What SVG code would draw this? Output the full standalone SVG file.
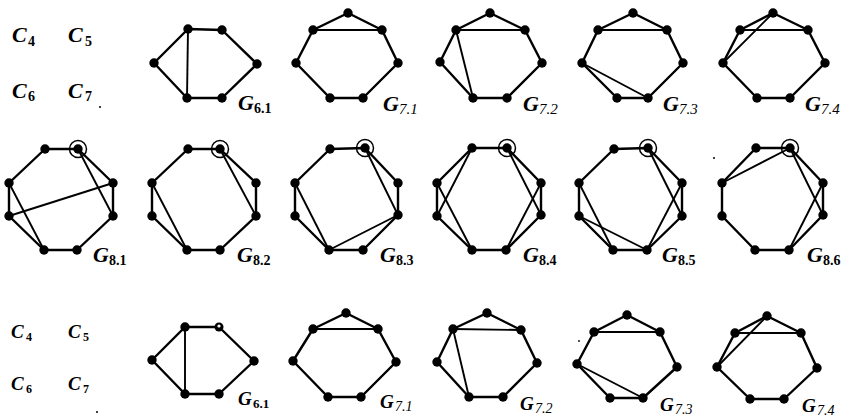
<svg xmlns="http://www.w3.org/2000/svg" width="853" height="418" viewBox="0 0 853 418">
<style>
.cyc{fill:none;stroke:#000;stroke-width:2.4;stroke-linejoin:round}
.ch{stroke:#000;stroke-width:1.9;fill:none}
.v{fill:#000}
.ring{fill:none;stroke:#000;stroke-width:1.5}
.lbl{font-family:"Liberation Serif",serif;font-style:italic;font-weight:bold;font-size:22px;fill:#000}
.lbl3{font-family:"Liberation Serif",serif;font-style:italic;font-weight:bold;font-size:19px;fill:#000}
.sb{font-family:"Liberation Serif",serif;font-weight:bold;font-style:normal;font-size:14px}
.si{font-family:"Liberation Serif",serif;font-style:italic;font-size:15px}
.speck{fill:#000}
</style>
<rect width="853" height="418" fill="#fff"/>

<g id="connectors">
<polygon class="cyc" points="188,29 222,30 257,64 222,98 187,98 154,63"/>
<line class="ch" x1="188" y1="29" x2="187" y2="98"/>
<polygon class="cyc" points="348,13 382,30 398,63 363,98 330,98 296,63 313,30"/>
<line class="ch" x1="313" y1="30" x2="382" y2="30"/>
<polygon class="cyc" points="490,13 525,30 542,63 507,98 473,98 440,62 456,30"/>
<line class="ch" x1="456" y1="30" x2="525" y2="30"/>
<line class="ch" x1="456" y1="30" x2="473" y2="98"/>
<polygon class="cyc" points="633,13 667,30 683,63 648,98 617,98 582,63 598,30"/>
<line class="ch" x1="598" y1="30" x2="667" y2="30"/>
<line class="ch" x1="582" y1="63" x2="648" y2="98"/>
<polygon class="cyc" points="773,13 808,30 825,63 790,98 757,98 723,63 740,30"/>
<line class="ch" x1="740" y1="30" x2="808" y2="30"/>
<line class="ch" x1="723" y1="63" x2="773" y2="13"/>
<polygon class="cyc" points="45,149 78,149 113,183 113,216 77,250 44,250 9,216 9,183"/>
<line class="ch" x1="78" y1="149" x2="113" y2="216"/>
<line class="ch" x1="9" y1="183" x2="44" y2="250"/>
<line class="ch" x1="9" y1="216" x2="113" y2="183"/>
<polygon class="cyc" points="188,149 220,149 256,183 256,216 220,250 187,250 152,216 152,183"/>
<line class="ch" x1="220" y1="149" x2="256" y2="216"/>
<line class="ch" x1="152" y1="183" x2="187" y2="250"/>
<polygon class="cyc" points="330,149 365,148 398,183 398,215 363,250 329,250 295,216 295,183"/>
<line class="ch" x1="365" y1="148" x2="398" y2="215"/>
<line class="ch" x1="295" y1="183" x2="329" y2="250"/>
<line class="ch" x1="329" y1="250" x2="398" y2="215"/>
<polygon class="cyc" points="472,148 507,148 541,183 541,215 506,250 472,250 437,216 437,183"/>
<line class="ch" x1="472" y1="148" x2="437" y2="216"/>
<line class="ch" x1="437" y1="183" x2="472" y2="250"/>
<line class="ch" x1="507" y1="148" x2="541" y2="215"/>
<line class="ch" x1="541" y1="183" x2="506" y2="250"/>
<polygon class="cyc" points="614,149 648,148 682,183 682,216 647,250 613,250 579,216 579,183"/>
<line class="ch" x1="648" y1="148" x2="682" y2="216"/>
<line class="ch" x1="682" y1="183" x2="647" y2="250"/>
<line class="ch" x1="579" y1="183" x2="613" y2="250"/>
<line class="ch" x1="579" y1="216" x2="647" y2="250"/>
<polygon class="cyc" points="756,148 790,148 823,183 823,215 789,250 755,250 722,216 722,183"/>
<line class="ch" x1="790" y1="148" x2="722" y2="183"/>
<line class="ch" x1="790" y1="148" x2="823" y2="215"/>
<line class="ch" x1="823" y1="183" x2="789" y2="250"/>
<polygon class="cyc" points="185,327 219,327 254,361 219,394 185,394 152,360"/>
<line class="ch" x1="185" y1="327" x2="185" y2="394"/>
<polygon class="cyc" points="346,313 378,329 396,362 361,397 328,397 293,361 313,329"/>
<line class="ch" x1="313" y1="329" x2="378" y2="329"/>
<polygon class="cyc" points="487,313 521,330 537,363 503,397 469,397 437,362 453,329"/>
<line class="ch" x1="453" y1="329" x2="521" y2="330"/>
<line class="ch" x1="453" y1="329" x2="469" y2="397"/>
<polygon class="cyc" points="627,315 660,332 677,367 643,398 610,398 577,364 594,332"/>
<line class="ch" x1="594" y1="332" x2="660" y2="332"/>
<line class="ch" x1="577" y1="364" x2="643" y2="398"/>
<polygon class="cyc" points="767,316 801,333 817,368 784,399 750,399 717,367 735,333"/>
<line class="ch" x1="735" y1="333" x2="801" y2="333"/>
<line class="ch" x1="717" y1="367" x2="767" y2="316"/>
</g>

<g id="C-labels-top">
<text class="lbl" x="12" y="42">C</text><text class="sb" x="28" y="46">4</text>
<text class="lbl" x="68" y="42">C</text><text class="sb" x="85" y="46">5</text>
<text class="lbl" x="12" y="98">C</text><text class="sb" x="28" y="101">6</text>
<text class="lbl" x="68" y="98">C</text><text class="sb" x="85" y="101">7</text>
</g>
<g id="C-labels-bottom">
<text class="lbl3" x="11" y="338">C</text><text class="sb" x="26" y="341" style="font-size:12px">4</text>
<text class="lbl3" x="68" y="338">C</text><text class="sb" x="83" y="341" style="font-size:12px">5</text>
<text class="lbl3" x="11" y="390">C</text><text class="sb" x="26" y="393" style="font-size:12px">6</text>
<text class="lbl3" x="68" y="390">C</text><text class="sb" x="83" y="393" style="font-size:12px">7</text>
</g>

<g id="G6-1-top">
<circle class="v" cx="188" cy="29" r="4.7"/><circle class="v" cx="222" cy="30" r="4.7"/><circle class="v" cx="257" cy="64" r="4.7"/><circle class="v" cx="222" cy="98" r="4.7"/><circle class="v" cx="187" cy="98" r="4.7"/><circle class="v" cx="154" cy="63" r="4.7"/>
<text class="lbl" x="238" y="110">G</text><text class="sb" x="254" y="113">6.1</text>
</g>
<g id="G7-1-top">
<circle class="v" cx="348" cy="13" r="4.7"/><circle class="v" cx="382" cy="30" r="4.7"/><circle class="v" cx="398" cy="63" r="4.7"/><circle class="v" cx="363" cy="98" r="4.7"/><circle class="v" cx="330" cy="98" r="4.7"/><circle class="v" cx="296" cy="63" r="4.7"/><circle class="v" cx="313" cy="30" r="4.7"/>
<text class="lbl" x="383" y="111">G</text><text class="si" x="399" y="114">7.1</text>
</g>
<g id="G7-2-top">
<circle class="v" cx="490" cy="13" r="4.7"/><circle class="v" cx="525" cy="30" r="4.7"/><circle class="v" cx="542" cy="63" r="4.7"/><circle class="v" cx="507" cy="98" r="4.7"/><circle class="v" cx="473" cy="98" r="4.7"/><circle class="v" cx="440" cy="62" r="4.7"/><circle class="v" cx="456" cy="30" r="4.7"/>
<text class="lbl" x="523" y="111">G</text><text class="si" x="539" y="114">7.2</text>
</g>
<g id="G7-3-top">
<circle class="v" cx="633" cy="13" r="4.7"/><circle class="v" cx="667" cy="30" r="4.7"/><circle class="v" cx="683" cy="63" r="4.7"/><circle class="v" cx="648" cy="98" r="4.7"/><circle class="v" cx="617" cy="98" r="4.7"/><circle class="v" cx="582" cy="63" r="4.7"/><circle class="v" cx="598" cy="30" r="4.7"/>
<text class="lbl" x="663" y="111">G</text><text class="si" x="679" y="114">7.3</text>
</g>
<g id="G7-4-top">
<circle class="v" cx="773" cy="13" r="4.7"/><circle class="v" cx="808" cy="30" r="4.7"/><circle class="v" cx="825" cy="63" r="4.7"/><circle class="v" cx="790" cy="98" r="4.7"/><circle class="v" cx="757" cy="98" r="4.7"/><circle class="v" cx="723" cy="63" r="4.7"/><circle class="v" cx="740" cy="30" r="4.7"/>
<text class="lbl" x="805" y="111">G</text><text class="si" x="821" y="114">7.4</text>
</g>

<g id="G8-1">
<circle class="v" cx="45" cy="149" r="4.7"/><circle class="v" cx="78" cy="149" r="4.7"/><circle class="ring" cx="78" cy="149" r="8.5"/><circle class="v" cx="113" cy="183" r="4.7"/><circle class="v" cx="113" cy="216" r="4.7"/><circle class="v" cx="77" cy="250" r="4.7"/><circle class="v" cx="44" cy="250" r="4.7"/><circle class="v" cx="9" cy="216" r="4.7"/><circle class="v" cx="9" cy="183" r="4.7"/>
<text class="lbl" x="93" y="262">G</text><text class="sb" x="109" y="265">8.1</text>
</g>
<g id="G8-2">
<circle class="v" cx="188" cy="149" r="4.7"/><circle class="v" cx="220" cy="149" r="4.7"/><circle class="ring" cx="220" cy="149" r="8.5"/><circle class="v" cx="256" cy="183" r="4.7"/><circle class="v" cx="256" cy="216" r="4.7"/><circle class="v" cx="220" cy="250" r="4.7"/><circle class="v" cx="187" cy="250" r="4.7"/><circle class="v" cx="152" cy="216" r="4.7"/><circle class="v" cx="152" cy="183" r="4.7"/>
<text class="lbl" x="237" y="262">G</text><text class="sb" x="253" y="265">8.2</text>
</g>
<g id="G8-3">
<circle class="v" cx="330" cy="149" r="4.7"/><circle class="v" cx="365" cy="148" r="4.7"/><circle class="ring" cx="365" cy="148" r="8.5"/><circle class="v" cx="398" cy="183" r="4.7"/><circle class="v" cx="398" cy="215" r="4.7"/><circle class="v" cx="363" cy="250" r="4.7"/><circle class="v" cx="329" cy="250" r="4.7"/><circle class="v" cx="295" cy="216" r="4.7"/><circle class="v" cx="295" cy="183" r="4.7"/>
<text class="lbl" x="380" y="262">G</text><text class="sb" x="396" y="265">8.3</text>
</g>
<g id="G8-4">
<circle class="v" cx="472" cy="148" r="4.7"/><circle class="v" cx="507" cy="148" r="4.7"/><circle class="ring" cx="507" cy="148" r="8.5"/><circle class="v" cx="541" cy="183" r="4.7"/><circle class="v" cx="541" cy="215" r="4.7"/><circle class="v" cx="506" cy="250" r="4.7"/><circle class="v" cx="472" cy="250" r="4.7"/><circle class="v" cx="437" cy="216" r="4.7"/><circle class="v" cx="437" cy="183" r="4.7"/>
<text class="lbl" x="523" y="262">G</text><text class="sb" x="539" y="265">8.4</text>
</g>
<g id="G8-5">
<circle class="v" cx="614" cy="149" r="4.7"/><circle class="v" cx="648" cy="148" r="4.7"/><circle class="ring" cx="648" cy="148" r="8.5"/><circle class="v" cx="682" cy="183" r="4.7"/><circle class="v" cx="682" cy="216" r="4.7"/><circle class="v" cx="647" cy="250" r="4.7"/><circle class="v" cx="613" cy="250" r="4.7"/><circle class="v" cx="579" cy="216" r="4.7"/><circle class="v" cx="579" cy="183" r="4.7"/>
<text class="lbl" x="662" y="262">G</text><text class="sb" x="678" y="265">8.5</text>
</g>
<g id="G8-6">
<circle class="v" cx="756" cy="148" r="4.7"/><circle class="v" cx="790" cy="148" r="4.7"/><circle class="ring" cx="790" cy="148" r="8.5"/><circle class="v" cx="823" cy="183" r="4.7"/><circle class="v" cx="823" cy="215" r="4.7"/><circle class="v" cx="789" cy="250" r="4.7"/><circle class="v" cx="755" cy="250" r="4.7"/><circle class="v" cx="722" cy="216" r="4.7"/><circle class="v" cx="722" cy="183" r="4.7"/>
<text class="lbl" x="807" y="262">G</text><text class="sb" x="823" y="265">8.6</text>
</g>

<g id="G6-1-bottom">
<circle class="v" cx="185" cy="327" r="4.7"/><circle class="v" cx="219" cy="327" r="4.5"/><circle cx="219" cy="326" r="1.6" fill="#fff"/><circle class="v" cx="254" cy="361" r="4.7"/><circle class="v" cx="219" cy="394" r="4.7"/><circle class="v" cx="185" cy="394" r="4.7"/><circle class="v" cx="152" cy="360" r="4.7"/>
<text class="lbl3" x="238" y="405">G</text><text class="sb" x="253" y="408" style="font-size:13px">6.1</text>
</g>
<g id="G7-1-bottom">
<circle class="v" cx="346" cy="313" r="4.7"/><circle class="v" cx="378" cy="329" r="4.7"/><circle class="v" cx="396" cy="362" r="4.7"/><circle class="v" cx="361" cy="397" r="4.7"/><circle class="v" cx="328" cy="397" r="4.7"/><circle class="v" cx="293" cy="361" r="4.7"/><circle class="v" cx="313" cy="329" r="4.7"/>
<text class="lbl3" x="380" y="408">G</text><text class="si" x="395" y="411" style="font-size:14px">7.1</text>
</g>
<g id="G7-2-bottom">
<circle class="v" cx="487" cy="313" r="4.7"/><circle class="v" cx="521" cy="330" r="4.7"/><circle class="v" cx="537" cy="363" r="4.7"/><circle class="v" cx="503" cy="397" r="4.7"/><circle class="v" cx="469" cy="397" r="4.7"/><circle class="v" cx="437" cy="362" r="4.7"/><circle class="v" cx="453" cy="329" r="4.7"/>
<text class="lbl3" x="520" y="410">G</text><text class="si" x="535" y="413" style="font-size:14px">7.2</text>
</g>
<g id="G7-3-bottom">
<circle class="v" cx="627" cy="315" r="4.7"/><circle class="v" cx="660" cy="332" r="4.7"/><circle class="v" cx="677" cy="367" r="4.7"/><circle class="v" cx="643" cy="398" r="4.7"/><circle class="v" cx="610" cy="398" r="4.7"/><circle class="v" cx="577" cy="364" r="4.7"/><circle class="v" cx="594" cy="332" r="4.7"/>
<text class="lbl3" x="660" y="411">G</text><text class="si" x="675" y="414" style="font-size:14px">7.3</text>
</g>
<g id="G7-4-bottom">
<circle class="v" cx="767" cy="316" r="4.7"/><circle class="v" cx="801" cy="333" r="4.7"/><circle class="v" cx="817" cy="368" r="4.7"/><circle class="v" cx="784" cy="399" r="4.7"/><circle class="v" cx="750" cy="399" r="4.7"/><circle class="v" cx="717" cy="367" r="4.7"/><circle class="v" cx="735" cy="333" r="4.7"/>
<text class="lbl3" x="802" y="412">G</text><text class="si" x="817" y="415" style="font-size:14px">7.4</text>
</g>

<g id="specks">
<circle class="speck" cx="100" cy="107" r="1"/>
<circle class="speck" cx="714" cy="158" r="1"/>
<circle class="speck" cx="97" cy="412" r="1"/>
<circle class="speck" cx="579" cy="341" r="0.9"/>
</g>
</svg>
